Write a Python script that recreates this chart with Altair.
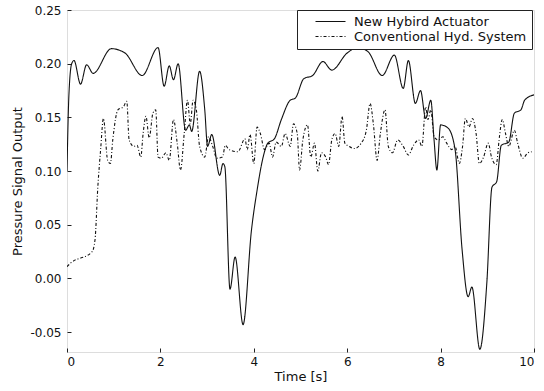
import altair as alt
import pandas as pd

# ---- data ----
hybrid_t = [0.0, 0.04, 0.1, 0.15, 0.29, 0.42, 0.56, 0.95, 1.24, 1.61, 1.95, 2.08, 2.19, 2.28,
            2.38, 2.54, 2.62, 2.67, 2.84, 2.95, 3.01, 3.10, 3.27, 3.34, 3.38, 3.49, 3.60, 3.77,
            3.95, 4.07, 4.20, 4.30, 4.44, 4.59, 4.78, 4.89, 5.07, 5.26, 5.48, 5.67, 6.0, 6.23,
            6.45, 6.75, 7.01, 7.2, 7.31, 7.46, 7.57, 7.68, 7.79, 7.86, 7.92, 8.0, 8.16, 8.31,
            8.46, 8.59, 8.67, 8.84, 8.99, 9.10, 9.20, 9.30, 9.46, 9.58, 9.72, 9.80, 10.0]
hybrid_v = [0.100, 0.170, 0.200, 0.203, 0.181, 0.199, 0.191, 0.214, 0.210, 0.189, 0.215, 0.179,
            0.198, 0.185, 0.200, 0.138, 0.143, 0.137, 0.193, 0.157, 0.123, 0.134, 0.096, 0.107,
            0.104, -0.010, 0.020, -0.043, 0.045, 0.082, 0.113, 0.126, 0.130, 0.148, 0.166, 0.168,
            0.186, 0.189, 0.202, 0.194, 0.210, 0.215, 0.211, 0.189, 0.208, 0.177, 0.203, 0.163,
            0.175, 0.149, 0.166, 0.129, 0.101, 0.143, 0.140, 0.120, 0.027, -0.017, -0.008,
            -0.066, -0.004, 0.085, 0.090, 0.124, 0.127, 0.154, 0.157, 0.166, 0.171]

conv_t = [0.0, 0.07, 0.54, 0.60, 0.66, 0.72, 0.78, 0.87, 0.93, 0.98, 1.09, 1.21, 1.28, 1.33,
          1.43, 1.50, 1.58, 1.63, 1.69, 1.76, 1.84, 1.90, 1.95, 2.02, 2.12, 2.19, 2.28, 2.36,
          2.43, 2.51, 2.58, 2.64, 2.70, 2.77, 2.84, 2.95, 3.03, 3.12, 3.21, 3.33, 3.39, 3.47,
          3.66, 3.81, 3.86, 3.92, 4.00, 4.07, 4.14, 4.23, 4.33, 4.40, 4.48, 4.59, 4.67, 4.78,
          4.85, 4.93, 4.98, 5.05, 5.15, 5.22, 5.30, 5.37, 5.45, 5.54, 5.60, 5.67, 5.74, 5.82,
          5.89, 5.95, 6.04, 6.15, 6.30, 6.41, 6.49, 6.56, 6.64, 6.71, 6.81, 6.88, 6.97, 7.08,
          7.20, 7.31, 7.42, 7.53, 7.60, 7.68, 7.73, 7.79, 7.86, 7.95, 8.05, 8.13, 8.24, 8.31,
          8.40, 8.47, 8.53, 8.61, 8.68, 8.76, 8.83, 8.92, 9.02, 9.09, 9.19, 9.26, 9.32, 9.39,
          9.46, 9.58, 9.65, 9.76, 9.87, 9.95]
conv_v = [0.011, 0.014, 0.025, 0.036, 0.085, 0.120, 0.149, 0.110, 0.107, 0.129, 0.157, 0.160,
          0.165, 0.129, 0.123, 0.124, 0.113, 0.135, 0.151, 0.131, 0.154, 0.157, 0.113, 0.112,
          0.117, 0.110, 0.148, 0.126, 0.101, 0.135, 0.166, 0.144, 0.166, 0.157, 0.123, 0.113,
          0.132, 0.123, 0.112, 0.113, 0.124, 0.120, 0.118, 0.130, 0.120, 0.134, 0.107, 0.141,
          0.135, 0.120, 0.126, 0.113, 0.127, 0.123, 0.135, 0.123, 0.144, 0.135, 0.101, 0.129,
          0.143, 0.113, 0.126, 0.100, 0.117, 0.113, 0.106, 0.129, 0.135, 0.123, 0.151, 0.126,
          0.123, 0.121, 0.126, 0.138, 0.163, 0.144, 0.110, 0.135, 0.157, 0.123, 0.117, 0.129,
          0.123, 0.115, 0.124, 0.129, 0.123, 0.160, 0.148, 0.157, 0.132, 0.129, 0.132, 0.126,
          0.120, 0.123, 0.107, 0.123, 0.149, 0.141, 0.149, 0.135, 0.107, 0.113, 0.126, 0.113,
          0.106, 0.132, 0.148, 0.135, 0.123, 0.138, 0.126, 0.112, 0.117, 0.118]

series_names = ["New Hybird Actuator", "Conventional Hyd. System"]
x_ticks = [0, 2, 4, 6, 8, 10]
y_ticks = [-0.05, 0.0, 0.05, 0.10, 0.15, 0.20, 0.25]

df = pd.concat([
    pd.DataFrame({"t": hybrid_t, "v": hybrid_v, "series": series_names[0], "order": range(len(hybrid_t))}),
    pd.DataFrame({"t": conv_t, "v": conv_v, "series": series_names[1], "order": range(len(conv_t))}),
])

FONT = "DejaVu Sans"

legend_opts = dict(title=None, orient="none", legendX=230, legendY=0,
                   symbolType="M-1,0H5", symbolSize=100,
                   symbolStrokeWidth=1.1, symbolOffset=12,
                   labelOffset=27, labelFontSize=13, labelFont=FONT, labelLimit=0,
                   labelColor="#111", padding=5, rowPadding=1,
                   strokeColor="#222", fillColor="white")

chart = alt.Chart(df).mark_line(strokeWidth=1.1, clip=True, interpolate="monotone").encode(
    x=alt.X("t:Q", title="Time [s]",
            scale=alt.Scale(domain=[0, 10], nice=False, zero=False),
            axis=alt.Axis(values=x_ticks, format="d", grid=False, domain=False,
                          offset=-4, tickSize=4, tickColor="#222", labelPadding=4,
                          titlePadding=3, labelFontSize=12, titleFontSize=13,
                          labelFont=FONT, titleFont=FONT, titleFontWeight="normal",
                          labelColor="#111", titleColor="#111")),
    y=alt.Y("v:Q", title="Pressure Signal Output",
            scale=alt.Scale(domain=[-0.0685, 0.25], nice=False, zero=False),
            axis=alt.Axis(values=y_ticks, grid=False, domain=False,
                          labelExpr="replace(format(datum.value, '.2f'), '\u2212', '-')",
                          offset=-4, tickSize=4, tickColor="#222", labelPadding=6,
                          titlePadding=5, labelFontSize=12, titleFontSize=13,
                          labelFont=FONT, titleFont=FONT, titleFontWeight="normal",
                          labelColor="#111", titleColor="#111")),
    color=alt.Color("series:N",
                    scale=alt.Scale(domain=series_names, range=["#111111", "#111111"]),
                    legend=alt.Legend(**legend_opts)),
    strokeDash=alt.StrokeDash("series:N",
                              scale=alt.Scale(domain=series_names, range=[[1, 0], [3, 2, 1, 2]]),
                              legend=alt.Legend(**legend_opts)),
    detail="series:N",
    order="order:Q",
).properties(
    width=467, height=342,
    autosize=alt.AutoSizeParams(type="none"),
    padding={"left": 67, "top": 10, "right": 10, "bottom": 39},
).configure_view(
    stroke="#222", strokeWidth=1
).configure(background="white")

chart.save("out.html", embed_options={"renderer": "svg", "actions": False})
